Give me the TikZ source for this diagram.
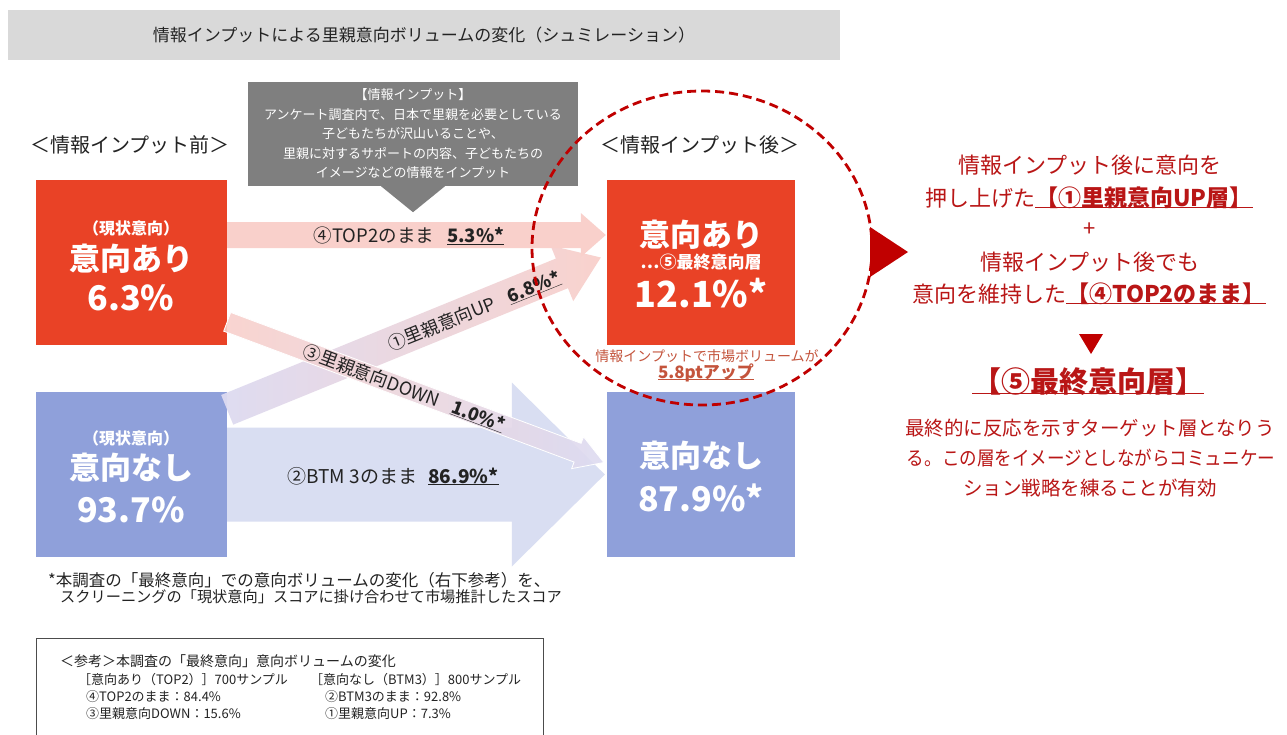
\documentclass[tikz,border=0pt]{standalone}
\usepackage{fontspec}
\usepackage{graphicx}
\setmainfont{Noto Sans CJK JP}
\usetikzlibrary{calc}
\definecolor{boxred}{RGB}{233,66,38}
\definecolor{boxblue}{RGB}{143,160,218}
\definecolor{titlegray}{RGB}{217,217,217}
\definecolor{calloutgray}{RGB}{127,127,127}
\definecolor{arrowpink}{RGB}{249,208,203}
\definecolor{arrowlav}{RGB}{221,219,241}
\definecolor{arrowblue}{RGB}{217,222,242}
\definecolor{darkred}{RGB}{192,0,0}
\definecolor{textred}{RGB}{185,22,22}
\definecolor{notered}{RGB}{196,84,60}
\definecolor{inkgray}{RGB}{35,35,35}
\newcommand\fs[1]{\fontsize{#1}{#1}\selectfont}
\newcommand\fsl[2]{\fontsize{#1}{#2}\selectfont}
\newcommand\ul[1]{\underline{\smash{#1}}}
% #1 name, #2 start coord, #3 tip coord, #4 shaft half width, #5 head half width, #6 head length, #7 style
\newcommand\blockarrow[7]{%
  \coordinate (#1-base) at ($(#3)!#6!(#2)$);
  \path[#7] ($(#2)!#4!90:(#3)$) -- ($(#1-base)!#4!90:(#3)$) -- ($(#1-base)!#5!90:(#3)$)
    -- (#3) -- ($(#1-base)!#5!-90:(#3)$) -- ($(#1-base)!#4!-90:(#3)$)
    -- ($(#2)!#4!-90:(#3)$) -- cycle;}
\begin{document}
\begin{tikzpicture}[x=1pt,y=-1pt,
  box/.style={draw=none, inner sep=0pt, minimum width=#1, minimum height=165pt},
  boxtxt/.style={text=white, inner sep=0pt, font=\bfseries\fs{#1}},
  lbl/.style={inner sep=0pt, text=inkgray, font=\fs{#1}},
  righttxt/.style={inner sep=0pt, text=textred, font=\fs{#1}},
  reftxt/.style={inner sep=0pt, anchor=west, text=inkgray, font=\fs{#1}},
  foot/.style={inner sep=0pt, anchor=west, text=inkgray, font=\fs{#1}},
  hdr/.style={inner sep=0pt, text=inkgray, font=\fs{20}}]
\useasboundingbox (0,0) rectangle (1287,734);
\fill[white] (0,0) rectangle (1287,734);

% title bar
\node[fill=titlegray, minimum width=832pt, minimum height=50pt, inner sep=0pt, text=inkgray, font=\fs{17}] (title) at (424,35) {情報インプットによる里親意向ボリュームの変化（シュミレーション）};

% headers
\node[hdr] (hbefore) at (130,145) {＜情報インプット前＞};
\node[hdr] (hafter) at (700,145) {＜情報インプット後＞};

% boxes
\node[box=191pt, fill=boxred] (lred) at (131.5,262.5) {};
\node[box=191pt, fill=boxblue] (lblue) at (131.5,474.5) {};
\node[box=188pt, fill=boxred] (rred) at (701,262.5) {};
\node[box=188pt, fill=boxblue] (rblue) at (701,474.5) {};

% connector end points
\coordinate (t-a) at ($(lred.east)+(0,-27.5)$);
\coordinate (t-b) at ($(rred.west)+(-1,-27.5)$);
\coordinate (b-a) at (lblue.east);
\coordinate (b-b) at ($(rblue.west)+(-2,0)$);
\coordinate (u-a) at ($(lblue.north east)+(0,18)$);
\coordinate (u-b) at ($(rred.west)+(-6,-5)$);
\coordinate (d-a) at ($(lred.north east)+(0,142)$);
\coordinate (d-b) at ($(rblue.west)+(-3,-12)$);

% block arrows
\blockarrow{btm}{b-a}{b-b}{47pt}{92pt}{93pt}{fill=arrowblue}
\blockarrow{up}{u-a}{u-b}{16pt}{30pt}{42pt}{left color=arrowlav, right color=arrowpink, fill opacity=0.95}
\blockarrow{down}{d-a}{d-b}{10pt}{17pt}{28pt}{left color=arrowpink, right color=arrowlav, fill opacity=0.9, draw=white, line width=0.8pt}
\blockarrow{top}{t-a}{t-b}{13pt}{22pt}{25pt}{fill=arrowpink}

% arrow labels
\node[lbl=18.5] (ltop) at (409,236) {④TOP2のまま\hspace{0.7em}\ul{\textbf{5.3\%*}}};
\node[lbl=18, rotate=22] (lup) at (474,311) {①里親意向UP\hspace{0.8em}\ul{\textbf{6.8\%*}}};
\node[lbl=18, rotate=-20.5] (ldown) at (404,388) {③里親意向DOWN\hspace{0.8em}\ul{\textbf{1.0\%*}}};
\node[lbl=19] (lbtm) at (393,476) {②BTM 3のまま\hspace{0.6em}\ul{\textbf{86.9\%*}}};

% box texts
\node[boxtxt=16] (lr1) at (131,228) {（現状意向）};
\node[boxtxt=31] (lr2) at (131,259) {意向あり};
\node[boxtxt=34] (lr3) at (131,298) {6.3\%};
\node[boxtxt=16] (lb1) at (131,438) {（現状意向）};
\node[boxtxt=31] (lb2) at (131,468) {意向なし};
\node[boxtxt=34] (lb3) at (131,510) {93.7\%};
\node[boxtxt=31] (rr1) at (701,235) {意向あり};
\node[boxtxt=17] (rr2) at (701,262) {…⑤最終意向層};
\node[boxtxt=36] (rr3) at (701,293) {12.1\%*};
\node[boxtxt=31] (rb1) at (701,456) {意向なし};
\node[boxtxt=34] (rb2) at (701,498) {87.9\%*};

% callout
\node[fill=calloutgray, minimum width=330pt, minimum height=104pt, inner sep=0pt, text=white, align=center, font=\fsl{13}{19.5}] (callout) at (413,134) {【情報インプット】\\アンケート調査内で、日本で里親を必要としている\\子どもたちが沢山いることや、\\里親に対するサポートの内容、子どもたちの\\イメージなどの情報をインプット};
\fill[calloutgray] ($(callout.south)+(-32,0)$) -- ($(callout.south)+(32,0)$) -- ($(callout.south)+(0,26)$) -- cycle;

% volume note
\node[inner sep=0pt, text=notered, font=\fs{14}] (vol1) at (707,356) {情報インプットで市場ボリュームが};
\node[inner sep=0pt, text=notered, font=\bfseries\fs{17}] (vol2) at (706,379) {\ul{5.8ptアップ}};

% dashed circle
\coordinate (cc) at (702,248);
\draw[darkred, line width=2.8pt, dash pattern=on 9pt off 5pt] (cc) ellipse [x radius=170, y radius=157];
% red pointer
\fill[darkred] (870,227) -- (870,277) -- (908,252) -- cycle;

% right text
\node[righttxt=22] (r1) at (1090,165) {情報インプット後に意向を};
\node[righttxt=22] (r2) at (1089,198) {押し上げた\ul{\textbf{\fs{23}【①里親意向UP層】}}};
\node[righttxt=22] (r3) at (1090,230) {+};
\node[righttxt=22] (r4) at (1090,262) {情報インプット後でも};
\node[righttxt=22] (r5) at (1089,294) {意向を維持した\ul{\textbf{\fs{23}【④TOP2のまま】}}};
\fill[darkred] (1079,334) -- (1103,334) -- (1091,354) -- cycle;
\node[righttxt=29] (r6) at (1088,393) {\ul{\textbf{【⑤最終意向層】}}};
\node[righttxt=19.5] (r7) at (1090,428) {最終的に反応を示すターゲット層となりう};
\node[righttxt=19.5] (r8) at (1091,458) {\scalebox{0.9}[1]{る。この層をイメージとしながらコミュニケー}};
\node[righttxt=19.5] (r9) at (1090,488) {ション戦略を練ることが有効};

% footnote
\node[foot=16.5] (f1) at (48,580) {*本調査の「最終意向」での意向ボリュームの変化（右下参考）を、};
\node[foot=15.2] (f2) at (60,597) {スクリーニングの「現状意向」スコアに掛け合わせて市場推計したスコア};

% reference box
\draw[gray!60!black, line width=1pt] (36,736) -- (36,638) -- (543,638) -- (543,736);
\node[reftxt=14] (q0) at (60,661) {＜参考＞本調査の「最終意向」意向ボリュームの変化};
\node[reftxt=13] (q1) at (78,680) {［意向あり（TOP2）］700サンプル};
\node[reftxt=13] (q2) at (86,697) {④TOP2のまま：84.4\%};
\node[reftxt=13] (q3) at (86,714) {③里親意向DOWN：15.6\%};
\node[reftxt=13] (q4) at (310,680) {［意向なし（BTM3）］800サンプル};
\node[reftxt=13] (q5) at (325,697) {②BTM3のまま：92.8\%};
\node[reftxt=13] (q6) at (325,714) {①里親意向UP：7.3\%};
\end{tikzpicture}
\end{document}
